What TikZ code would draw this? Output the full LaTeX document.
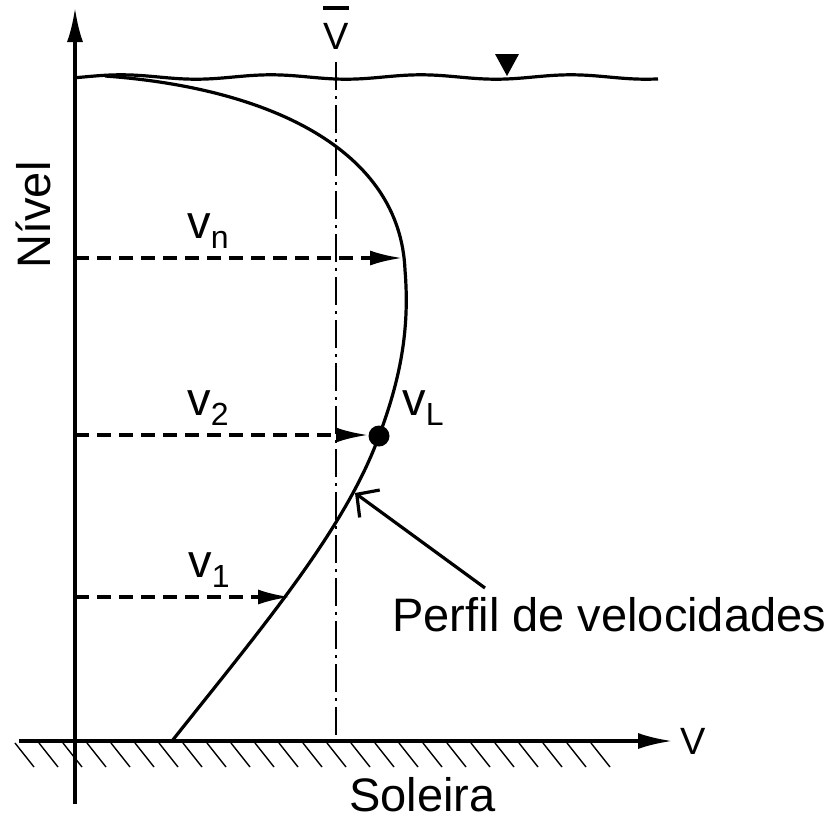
\documentclass[tikz,border=0pt]{standalone}
\usepackage{fontspec}
\setmainfont{Liberation Sans}
\usetikzlibrary{arrows.meta,positioning}
\newcommand{\vsub}[2]{#1\raisebox{-5pt}{\fontsize{16}{16}\selectfont #2}}

\begin{document}
\begin{tikzpicture}[
    x=0.5pt, y=-0.5pt,
    axis/.style={line width=1.6pt, -{Latex[length=17pt,width=8pt]}},
    vel/.style={line width=1.6pt, dash pattern=on 7pt off 4pt, -{Latex[length=16pt,width=7.5pt]}},
    lbl/.style={inner sep=0pt, font=\fontsize{23.5}{28}\selectfont, anchor=base west},
    mean/.style={line width=1.4pt, dash pattern=on 14pt off 3pt on 1.5pt off 3pt},
    hatchline/.style={line width=0.7pt}
]
\useasboundingbox (0,0) rectangle (836,820);

% axes
\coordinate (ybot) at (75,804);
\coordinate (ytop) at (75,8);
\coordinate (xleft) at (19,741);
\coordinate (xright) at (672,741);
\foreach \x in {15,39,...,610}
    \draw[hatchline] (\x,743) -- ++(19,24);
\draw[axis] (ybot) -- (ytop);
\draw[axis] (xleft) -- (xright);
\node[font=\fontsize{19}{22}\selectfont, inner sep=0pt, right=4pt of xright] (Vaxis) {V};
\node[font=\fontsize{23.5}{28}\selectfont, rotate=90] (nivel) at (33,215) {Nível};
\node[lbl] (soleira) at (349,811) {Soleira};

% water surface
\draw[line width=1.6pt] plot[domain=75:658, samples=120, smooth] (\x, {77-2.2*cos((\x-121)*2.4)});
\fill (495,54) -- (519,54) -- (507,76) -- cycle;

% mean velocity
\coordinate (mtop) at (336,62);
\coordinate (mbot) at (336,735);
\draw[mean] (mtop) -- (mbot);
\node[font=\fontsize{19}{20}\selectfont, inner sep=0pt, align=center] (vmean) at (336,28)
    {\rule{13pt}{1.7pt}\\V};

% velocity profile
\coordinate (p0) at (105,76);
\coordinate (p1) at (405,270);
\node[circle, fill, inner sep=0pt, minimum size=10.5pt] (vL) at (379,436) {};
\coordinate (p3) at (172,741);
\draw[line width=1.6pt] (p0) .. controls (270,88) and (400,150) .. (p1)
    .. controls (410,330) and (400,380) .. (vL.center)
    .. controls (345,530) and (260,630) .. (p3);
\node[lbl] (lvL) at (402,415) {\vsub{v}{L}};

% point velocities
\coordinate (n0) at (75,258);
\coordinate (n1) at (402,258);
\coordinate (b0) at (75,435);
\coordinate (b1) at (368,435);
\coordinate (a0) at (75,597);
\coordinate (a1) at (290,597);
\draw[vel] (n0) -- (n1);
\draw[vel] (b0) -- (b1);
\draw[vel] (a0) -- (a1);
\node[lbl] (lvn) at (187,238) {\vsub{v}{n}};
\node[lbl] (lv2) at (187,415) {\vsub{v}{2}};
\node[lbl] (lv1) at (188,577) {\vsub{v}{1}};

% label
\node[lbl] (perfil) at (392,631) {Perfil de velocidades};
\coordinate (ptail) at (485,588);
\coordinate (ptip) at (355,493);
\draw[line width=1.6pt, -{Straight Barb[length=8pt,width=17pt]}] (ptail) -- (ptip);
\end{tikzpicture}
\end{document}
